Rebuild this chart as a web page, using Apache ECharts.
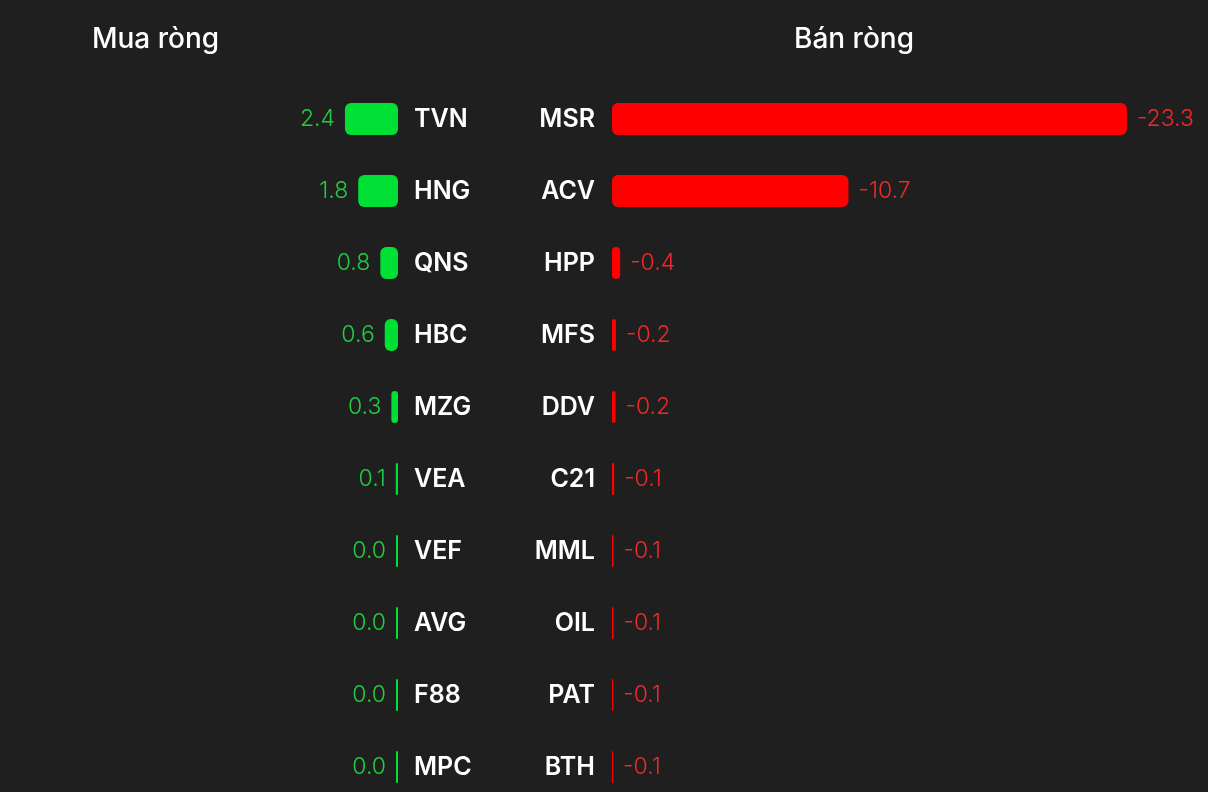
<!DOCTYPE html>
<html><head><meta charset="utf-8">
<script src="https://cdn.jsdelivr.net/npm/echarts@6/dist/echarts.min.js"></script>
<style>html,body{margin:0;padding:0;background:#1f1f1f;overflow:hidden;height:792px;}#c{width:1208px;height:820px;}</style>
</head><body><div id="c"></div>
<script>
const buyNames = ['TVN','HNG','QNS','HBC','MZG','VEA','VEF','AVG','F88','MPC'];
const buyValues = [2.4, 1.8, 0.8, 0.6, 0.3, 0.1, 0.04, 0.04, 0.04, 0.04];
const sellNames = ['MSR','ACV','HPP','MFS','DDV','C21','MML','OIL','PAT','BTH'];
const sellValues = [-23.3, -10.7, -0.37, -0.18, -0.16, -0.1, -0.07, -0.07, -0.06, -0.05];
const titleBuy = 'Mua ròng';
const titleSell = 'Bán ròng';

const PX = 22.1; // pixels per unit
const FONT = 'Inter, "Noto Sans", sans-serif';
const chart = echarts.init(document.getElementById('c'));
const fmt = p => p.value.toFixed(1);
const titleStyle = t => ({fill: '#fff', text: t, fontSize: 28, fontWeight: 500, fontFamily: FONT, textAlign: 'center', textVerticalAlign: 'middle'});
chart.setOption({
  backgroundColor: '#1f1f1f',
  animation: false,
  graphic: [
    {type: 'text', x: 155.5, y: 40, style: titleStyle(titleBuy)},
    {type: 'text', x: 854, y: 40, style: titleStyle(titleSell)}
  ],
  grid: [
    {left: 0, width: 398, top: 83, height: 720, containLabel: false},
    {left: 612, width: 552, top: 83, height: 720, containLabel: false}
  ],
  xAxis: [
    {gridIndex: 0, type: 'value', min: 0, max: 398 / PX, inverse: true, show: false},
    {gridIndex: 1, type: 'value', min: -552 / PX, max: 0, inverse: true, show: false}
  ],
  yAxis: [
    {gridIndex: 0, type: 'category', data: buyNames, inverse: true, position: 'right',
     axisLine: {show: false}, axisTick: {show: false},
     axisLabel: {margin: 16, align: 'left', color: '#fff', fontSize: 25, fontWeight: 600, fontFamily: FONT}},
    {gridIndex: 1, type: 'category', data: sellNames, inverse: true, position: 'left',
     axisLine: {show: false}, axisTick: {show: false},
     axisLabel: {margin: 17, align: 'right', color: '#fff', fontSize: 25, fontWeight: 600, fontFamily: FONT}}
  ],
  series: [
    {type: 'bar', xAxisIndex: 0, yAxisIndex: 0, data: buyValues, barWidth: 32, barMinHeight: 2,
     itemStyle: {color: '#00e034', borderRadius: 6},
     label: {show: true, position: 'left', distance: 10, formatter: fmt, color: '#22cc40', fontSize: 23, fontWeight: 300, fontFamily: FONT}},
    {type: 'bar', xAxisIndex: 1, yAxisIndex: 1, data: sellValues, barWidth: 32,
     itemStyle: {color: '#ff0000', borderRadius: 6},
     label: {show: true, position: 'right', distance: 10, formatter: fmt, color: '#f02828', fontSize: 23, fontWeight: 300, fontFamily: FONT}}
  ]
});
</script></body></html>
